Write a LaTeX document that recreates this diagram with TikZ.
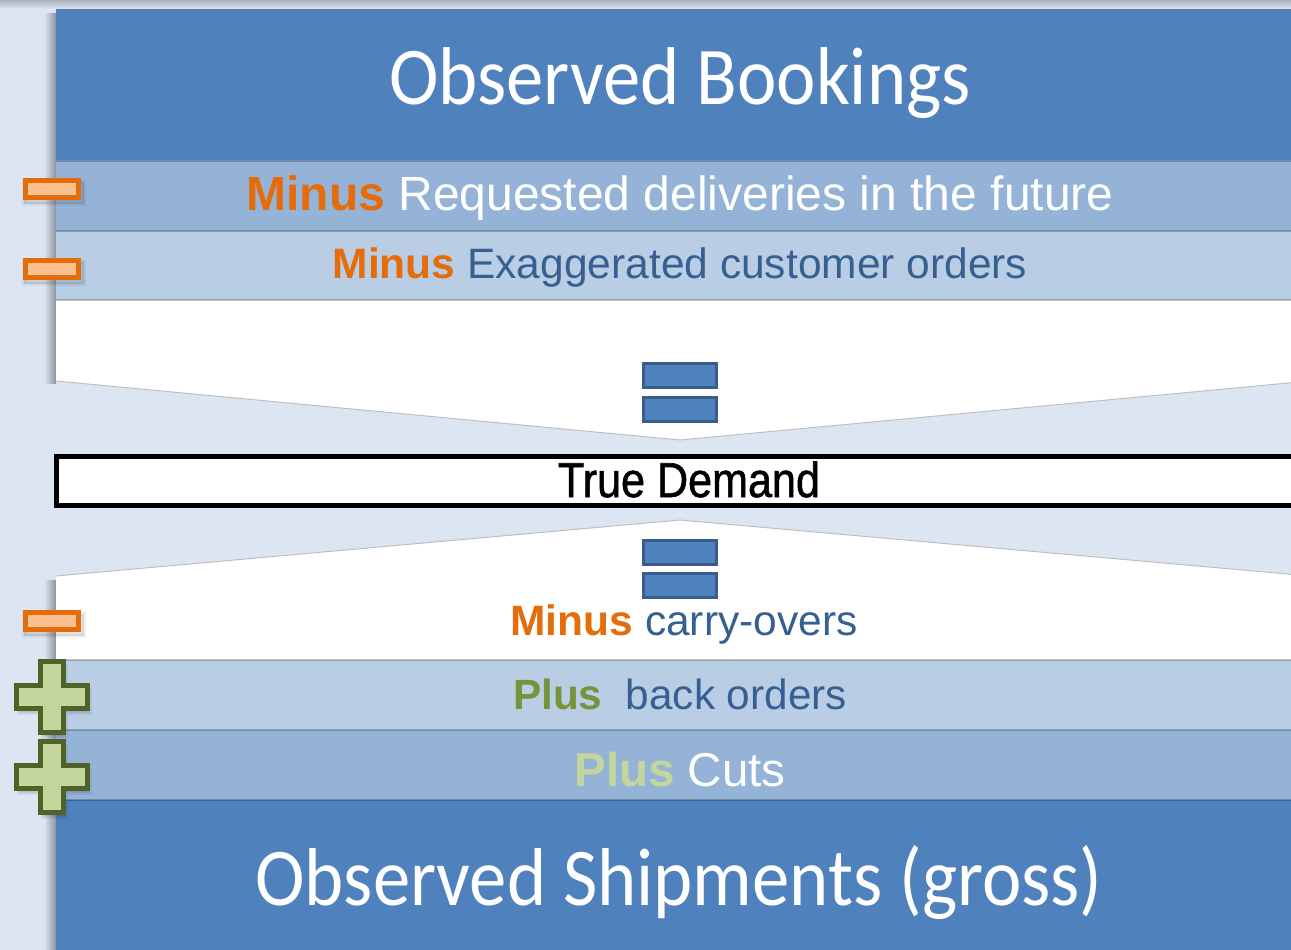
\documentclass[tikz,border=0pt]{standalone}
\usepackage{fontspec}
\setmainfont{Liberation Sans}
\newfontfamily\titlefont{Carlito}
\newfontfamily\tdfont[FakeBold=1.2]{Liberation Sans}
\usetikzlibrary{calc}
\definecolor{bgblue}{HTML}{DCE6F2}
\definecolor{darkblue}{HTML}{4F81BD}
\definecolor{midblue}{HTML}{95B3D7}
\definecolor{lightblue}{HTML}{B9CDE5}
\definecolor{eqborder}{HTML}{385D8A}
\definecolor{orangetxt}{HTML}{E46C0A}
\definecolor{orangefill}{HTML}{FAC090}
\definecolor{greenborder}{HTML}{4F6228}
\definecolor{greenfill}{HTML}{C3D69B}
\definecolor{greentxt}{HTML}{77933C}
\definecolor{bluetxt}{HTML}{376092}
\definecolor{shadowgray}{HTML}{8C939C}
\tikzset{
  txt/.style={anchor=base, inner sep=0pt, outer sep=0pt},
  bandline/.style={draw=black, draw opacity=0.22, line width=2pt},
  minusbox/.style={draw=orangetxt, fill=orangefill, line width=5pt, minimum width=53pt, minimum height=17pt, inner sep=0pt},
  glow/.style={fill=black, fill opacity=0.10, draw=black, draw opacity=0.06, line width=4pt},
  eqbar/.style={draw=eqborder, fill=darkblue, line width=3pt, minimum width=73pt, minimum height=24pt, inner sep=0pt},
  plussign/.style={draw=greenborder, fill=greenfill, line width=5pt, line join=miter},
}
\newcommand{\plusshape}[2][plussign]{%
  \draw[#1] ($(#2)+(-11.5,-35.5)$) -- ++(23,0) -- ++(0,24) -- ++(24,0) -- ++(0,23) -- ++(-24,0) -- ++(0,24) -- ++(-23,0) -- ++(0,-24) -- ++(-24,0) -- ++(0,-23) -- ++(24,0) -- cycle;}
\begin{document}
\begin{tikzpicture}[x=1pt,y=-1pt]
\useasboundingbox (0,0) rectangle (1291,950);
\clip (0,0) rectangle (1291,950);
% background
\fill[bgblue] (0,0) rectangle (1291,950);
\shade[top color=black!22!bgblue, bottom color=bgblue] (0,0) rectangle (1291,9);
% left shadows of the panel
\shade[left color=bgblue, right color=shadowgray] (44,14) rectangle (56,383);
\shade[left color=bgblue, right color=shadowgray] (44,580) rectangle (56,950);
% upper panel
\fill[darkblue] (56,9) rectangle (1310,160);
\fill[midblue] (56,160) rectangle (1310,231);
\fill[lightblue] (56,231) rectangle (1310,300);
\fill[white] (56,300) -- (1310,300) -- (1310,381) -- (680,440) -- (56,381) -- cycle;
\draw[black!25, line width=1pt] (56,381) -- (680,440) -- (1310,381);
\draw[bandline] (56,161) -- (1310,161);
\draw[bandline] (56,231) -- (1310,231);
\draw[bandline] (56,300) -- (1310,300);
% lower panel
\fill[white] (56,576) -- (680,520) -- (1310,576) -- (1310,660) -- (56,660) -- cycle;
\draw[black!25, line width=1pt] (56,576) -- (680,520) -- (1310,576);
\fill[lightblue] (56,660) rectangle (1310,730);
\fill[midblue] (56,730) rectangle (1310,800);
\fill[darkblue] (56,800) rectangle (1310,950);
\draw[bandline] (56,660) -- (1310,660);
\draw[bandline] (56,730) -- (1310,730);
\draw[bandline] (56,800) -- (1310,800);
% true demand box
\draw[black, fill=white, line width=5pt] (56.5,456.5) rectangle (1320,505.5);
% texts
\node[txt, text=white] (title) at (680,104) {\titlefont\fontsize{82}{90}\selectfont\scalebox{0.91}[1]{Observed Bookings}};
\node[txt, text=white] (req) at (680,210) {\fontsize{48}{56}\selectfont\textbf{\color{orangetxt}Minus} Requested deliveries in the future};
\node[txt, text=bluetxt] (exag) at (680,278) {\fontsize{42.5}{50}\selectfont\textbf{\color{orangetxt}Minus} Exaggerated customer orders};
\node[txt, text=black] (true) at (689,497) {\tdfont\fontsize{49}{56}\selectfont\scalebox{0.88}[1]{True Demand}};
\node[txt, text=bluetxt] (carry) at (684,635) {\fontsize{42.5}{50}\selectfont\textbf{\color{orangetxt}Minus} carry-overs};
\node[txt, text=bluetxt] (back) at (680,709) {\fontsize{42.3}{50}\selectfont\textbf{\color{greentxt}Plus}\ \ back orders};
\node[txt, text=white] (cuts) at (680,786) {\fontsize{47.5}{54}\selectfont\textbf{\color{greenfill}Plus} Cuts};
\node[txt, text=white] (ship) at (679,905) {\titlefont\fontsize{82}{90}\selectfont\scalebox{0.91}[1]{Observed Shipments (gross)}};
% equals signs
\node[eqbar] (eq1) at (680,375.5) {};
\node[eqbar] (eq2) at (680,409.5) {};
\node[eqbar] (eq3) at (680,552) {};
\node[eqbar] (eq4) at (680,585.5) {};
% soft shadows behind the signs
\fill[glow] (24,182) rectangle (84,204);
\fill[glow] (24,262) rectangle (84,284);
\fill[glow] (24,614) rectangle (84,636);
% minus signs
\node[minusbox] (m1) at (52,189) {};
\node[minusbox] (m2) at (52,269) {};
\node[minusbox] (m3) at (52,621) {};
% plus signs
\coordinate (p1) at (52,697);
\coordinate (p2) at (52,777);
\coordinate (s1) at (54,701);
\coordinate (s2) at (54,781);
\plusshape[glow]{s1}
\plusshape[glow]{s2}
\plusshape{p1}
\plusshape{p2}
\end{tikzpicture}
\end{document}
